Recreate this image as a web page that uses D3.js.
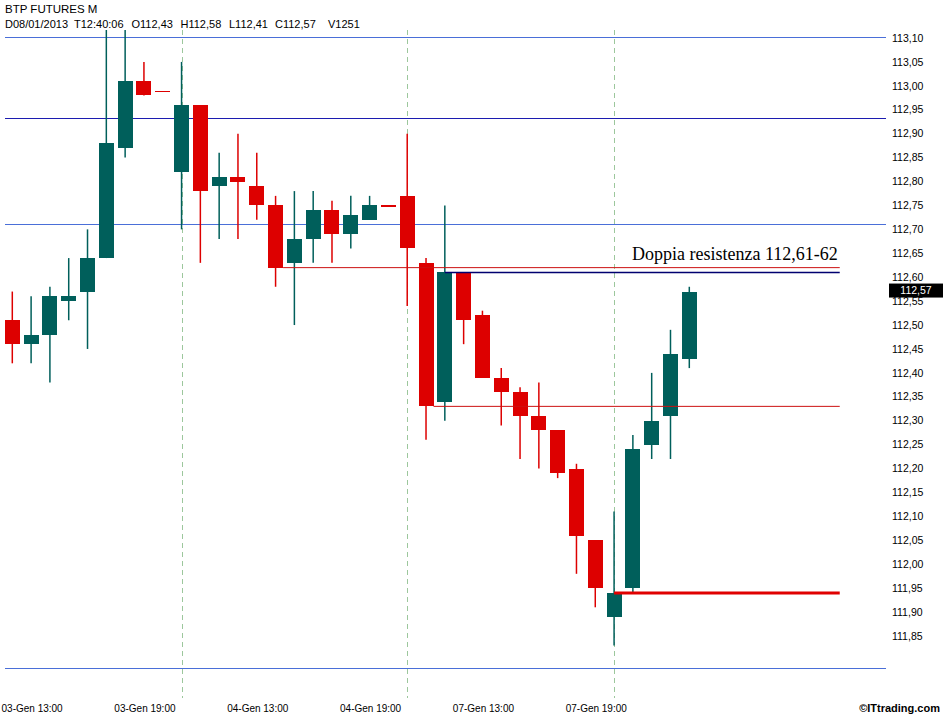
<!DOCTYPE html>
<html>
<head>
<meta charset="utf-8">
<script src="https://cdn.jsdelivr.net/npm/d3@7"></script>
<style>
  html, body { margin: 0; padding: 0; background: #fff; }
  svg { display: block; }
  text { font-family: Arial, "Liberation Sans", sans-serif; }
</style>
</head>
<body>
<svg id="chart" width="943" height="714"></svg>
<script>
// ---- DATA ----
const opens  = [112.51,112.46,112.48,112.55,112.57,112.64,112.87,113.01,112.99,112.82,112.96,112.79,112.81,112.79,112.75,112.63,112.68,112.74,112.69,112.72,112.75,112.77,112.63,112.34,112.61,112.52,112.39,112.36,112.31,112.28,112.20,112.05,111.89,111.95,112.25,112.31,112.43];
const highs  = [112.57,112.56,112.58,112.64,112.70,113.12,113.12,113.05,112.99,113.05,112.96,112.86,112.90,112.86,112.77,112.78,112.78,112.76,112.77,112.77,112.75,112.90,112.64,112.75,112.61,112.53,112.41,112.37,112.38,112.28,112.21,112.05,112.11,112.27,112.40,112.49,112.58];
const lows   = [112.42,112.42,112.38,112.51,112.45,112.64,112.85,112.98,112.99,112.70,112.63,112.68,112.68,112.72,112.58,112.50,112.63,112.63,112.66,112.72,112.75,112.54,112.26,112.30,112.46,112.39,112.29,112.22,112.20,112.18,111.98,111.91,111.83,111.94,112.22,112.22,112.41];
const closes = [112.46,112.48,112.56,112.56,112.64,112.88,113.01,112.98,112.99,112.96,112.78,112.81,112.80,112.75,112.62,112.68,112.74,112.69,112.73,112.75,112.75,112.66,112.33,112.61,112.51,112.39,112.36,112.31,112.28,112.19,112.06,111.95,111.94,112.24,112.30,112.44,112.57];

const xLabelText  = ["03-Gen 13:00","03-Gen 19:00","04-Gen 13:00","04-Gen 19:00","07-Gen 13:00","07-Gen 19:00"];
const xLabelIndex = [1, 7, 13, 19, 25, 31];
const sessionBreaks = [9, 21, 32];

const yTicks = [111.85,111.90,111.95,112.00,112.05,112.10,112.15,112.20,112.25,112.30,112.35,112.40,112.45,112.50,112.55,112.60,112.65,112.70,112.75,112.80,112.85,112.90,112.95,113.00,113.05,113.10];

const blueLevels = [113.10, 112.93, 112.71, 111.78];
const supportLevels = [112.62, 112.61, 112.33, 111.94];
const supportStart  = [14.4, 23, 22.4, 32];
const supportEnd = 44;

const lastPrice = 112.57;
const headerTitle = "BTP FUTURES M";
const headerParts = ["D08/01/2013","T12:40:06","O112,43","H112,58","L112,41","C112,57","V1251"];
const annotation = "Doppia resistenza 112,61-62";

// ---- SCALES ----
const x = d3.scaleLinear().domain([0, 36]).range([12.3, 689.3]);
const y = d3.scaleLinear().domain([111.85, 113.10]).range([636, 38]);
const fmt = v => d3.format(".2f")(v).replace(".", ",");

const svg = d3.select("#chart");
const GREEN = "#005f5b", RED = "#dd0000";

svg.append("defs").append("clipPath").attr("id", "plot")
  .append("rect").attr("x", 0).attr("y", 30).attr("width", 886).attr("height", 670);

const plot = svg.append("g").attr("clip-path", "url(#plot)");

// session separators
plot.selectAll("line.sep").data(sessionBreaks).enter().append("line")
  .attr("x1", d => Math.round(x(d)) + 0.5).attr("x2", d => Math.round(x(d)) + 0.5)
  .attr("y1", 30).attr("y2", 698)
  .attr("stroke", "#9cc79c").attr("stroke-width", 1).attr("stroke-dasharray", "5,4");

// blue horizontal levels
const blueColors = ["#4a6fd8", "#1c1cb0", "#4a6fd8", "#4a6fd8"];
plot.selectAll("line.blue").data(blueLevels).enter().append("line")
  .attr("x1", 5).attr("x2", 886)
  .attr("y1", d => Math.round(y(d)) - 0.5).attr("y2", d => Math.round(y(d)) - 0.5)
  .attr("stroke", (d, i) => blueColors[i]).attr("stroke-width", 1);

// candles
const idx = d3.range(opens.length);
const cw = 15;
const cg = plot.selectAll("g.c").data(idx).enter().append("g");
const col = i => closes[i] <= opens[i] ? RED : GREEN;
cg.append("line")
  .attr("x1", i => x(i)).attr("x2", i => x(i))
  .attr("y1", i => y(highs[i])).attr("y2", i => y(lows[i]))
  .attr("stroke", col).attr("stroke-width", 1.5);
cg.append("rect")
  .attr("x", i => x(i) - cw / 2)
  .attr("width", cw)
  .attr("y", i => y(Math.max(opens[i], closes[i])))
  .attr("height", i => Math.max(1.5, Math.abs(y(opens[i]) - y(closes[i]))))
  .attr("fill", col)
  .attr("shape-rendering", "crispEdges");

// support / resistance levels
const supColors = ["#cc1111", "#000070", "#cc1111", "#e00000"];
const supWidths = [1, 1.5, 1, 3];
plot.selectAll("line.sup").data(supportLevels).enter().append("line")
  .attr("x1", (d, i) => x(supportStart[i])).attr("x2", x(supportEnd))
  .attr("y1", d => y(d)).attr("y2", d => y(d))
  .attr("stroke", (d, i) => supColors[i]).attr("stroke-width", (d, i) => supWidths[i]);

// annotation
svg.append("text").attr("x", x(supportEnd) - 2).attr("y", y(supportLevels[0]) - 8)
  .attr("text-anchor", "end")
  .style("font-family", "'Liberation Serif', 'Times New Roman', serif")
  .style("font-size", "18px").attr("fill", "#000").text(annotation);

// y axis labels
svg.selectAll("text.yt").data(yTicks).enter().append("text")
  .attr("x", 892).attr("y", d => y(d)).attr("dy", "0.35em")
  .style("font-size", "10.5px").attr("fill", "#000").text(fmt);

// last price box
svg.append("rect").attr("x", 889).attr("y", y(lastPrice) - 8).attr("width", 54).attr("height", 14)
  .attr("fill", "#000");
svg.append("text").attr("x", 916).attr("y", y(lastPrice) - 1).attr("dy", "0.35em")
  .attr("text-anchor", "middle").style("font-size", "10.5px").attr("fill", "#fff").text(fmt(lastPrice));

// x axis labels
svg.selectAll("text.xt").data(xLabelIndex).enter().append("text")
  .attr("x", d => x(d) + 1).attr("y", 712).attr("text-anchor", "middle")
  .style("font-size", "10px").attr("fill", "#000")
  .text((d, i) => xLabelText[i]);

// copyright
svg.append("text").attr("x", 940).attr("y", 712).attr("text-anchor", "end")
  .style("font-size", "11px").style("font-weight", "bold").attr("fill", "#000").text("\u00A9ITtrading.com");

// header
svg.append("text").attr("x", 5).attr("y", 13).style("font-size", "11.5px").attr("fill", "#000").text(headerTitle);
const headerX = [5, 74, 131.5, 180.5, 229, 275, 328];
svg.selectAll("text.hp").data(headerParts).enter().append("text")
  .attr("x", (d, i) => headerX[i]).attr("y", 28)
  .style("font-size", "11px").attr("fill", "#000").text(d => d);
</script>
</body>
</html>
